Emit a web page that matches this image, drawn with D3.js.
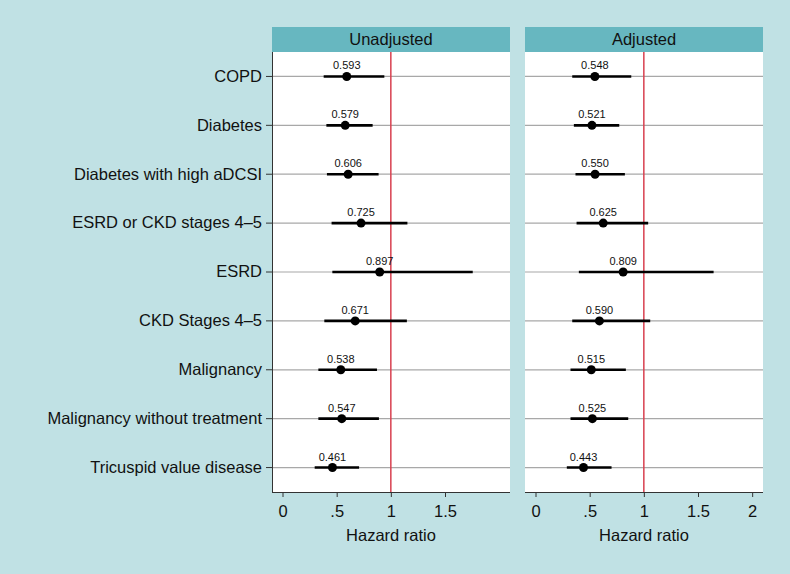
<!DOCTYPE html>
<html><head><meta charset="utf-8">
<script src="https://cdn.jsdelivr.net/npm/d3@7"></script>
<style>body{margin:0;background:#c0e1e4;} svg{display:block;font-family:"Liberation Sans",Arial,Helvetica,sans-serif;}</style>
</head><body>
<script>
const categories = ["COPD","Diabetes","Diabetes with high aDCSI","ESRD or CKD stages 4\u20135","ESRD","CKD Stages 4\u20135","Malignancy","Malignancy without treatment","Tricuspid value disease"];
const panels = ["Unadjusted","Adjusted"];
const unadjHR = [0.593,0.579,0.606,0.725,0.897,0.671,0.538,0.547,0.461];
const unadjLo = [0.38,0.405,0.41,0.453,0.46,0.386,0.331,0.331,0.297];
const unadjHi = [0.94,0.832,0.887,1.153,1.756,1.148,0.872,0.89,0.707];
const adjHR = [0.548,0.521,0.550,0.625,0.809,0.590,0.515,0.525,0.443];
const adjLo = [0.339,0.354,0.369,0.379,0.40,0.339,0.323,0.323,0.289];
const adjHi = [0.884,0.773,0.825,1.04,1.644,1.059,0.834,0.856,0.702];
const unadjTicks = [0,0.5,1,1.5];
const adjTicks = [0,0.5,1,1.5,2];
const tickLabel = v => v===0?"0":(v<1?String(v).replace(/^0/,""):String(v));

const W=790,H=574;
const svg=d3.select("body").append("svg").attr("width",W).attr("height",H);
svg.append("rect").attr("width",W).attr("height",H).attr("fill","#c0e1e4");

const plotTop=52,plotBottom=492;
const y=d3.scaleBand().domain(categories).range([plotTop,plotBottom]);
const panelX=[[272,510],[525,763]];
const data=[[unadjHR,unadjLo,unadjHi,unadjTicks],[adjHR,adjLo,adjHi,adjTicks]];

panels.forEach((name,p)=>{
  const [x0,x1]=panelX[p];
  const [hr,lo,hi,ticks]=data[p];
  const x=d3.scaleLinear().domain([-0.097,2.1]).range([x0,x1]);
  svg.append("rect").attr("x",x0).attr("y",27).attr("width",x1-x0).attr("height",plotTop-27).attr("fill","#67b7c0");
  svg.append("text").attr("x",(x0+x1)/2).attr("y",45).attr("text-anchor","middle").attr("font-size",16.5).attr("fill","#111").text(name);
  svg.append("rect").attr("x",x0).attr("y",plotTop).attr("width",x1-x0).attr("height",plotBottom-plotTop).attr("fill","#fff");
  const g=svg.append("g");
  const cy=d=>y(d)+y.bandwidth()/2;
  g.selectAll("line.grid").data(categories).join("line").attr("class","grid")
    .attr("x1",x0).attr("x2",x1).attr("y1",cy).attr("y2",cy)
    .attr("stroke","#a8a8a8").attr("stroke-width",1.2);
  g.append("line").attr("x1",x(1)).attr("x2",x(1)).attr("y1",plotTop).attr("y2",plotBottom).attr("stroke","#d8404f").attr("stroke-width",1.5);
  g.selectAll("line.ci").data(categories).join("line").attr("class","ci")
    .attr("x1",(d,i)=>x(lo[i])).attr("x2",(d,i)=>x(hi[i]))
    .attr("y1",cy).attr("y2",cy)
    .attr("stroke","#000").attr("stroke-width",2.6);
  g.selectAll("circle").data(categories).join("circle")
    .attr("cx",(d,i)=>x(hr[i])).attr("cy",cy).attr("r",4.5).attr("fill","#000");
  g.selectAll("text.lab").data(categories).join("text").attr("class","lab")
    .attr("x",(d,i)=>x(hr[i])).attr("y",d=>cy(d)-7)
    .attr("text-anchor","middle").attr("font-size",11).attr("fill","#111")
    .text((d,i)=>hr[i].toFixed(3));
  const ax=svg.append("g").attr("transform",`translate(0,${plotBottom})`)
    .call(d3.axisBottom(x).tickValues(ticks).tickFormat(tickLabel).tickSizeOuter(0).tickSize(5).tickPadding(8));
  ax.select(".domain").attr("stroke","#333").attr("d",`M${x0},0.5H${x1}`);
  ax.selectAll(".tick line").attr("stroke","#333");
  ax.selectAll(".tick text").attr("font-size",16.5).attr("fill","#111").attr("font-family","inherit");
  svg.append("text").attr("x",(x0+x1)/2).attr("y",541).attr("text-anchor","middle").attr("font-size",16.5).attr("fill","#111").text("Hazard ratio");
  if(p===0){
    const ay=svg.append("g").attr("transform",`translate(${x0},0)`)
      .call(d3.axisLeft(y).tickSize(6).tickSizeOuter(0).tickPadding(4));
    ay.select(".domain").attr("stroke","#333").attr("d",`M0.5,${plotTop}V${plotBottom}`);
    ay.selectAll(".tick line").attr("stroke","#333");
    ay.selectAll(".tick text").attr("font-size",16.5).attr("fill","#111").attr("font-family","inherit");
  }
});
</script>
</body></html>
